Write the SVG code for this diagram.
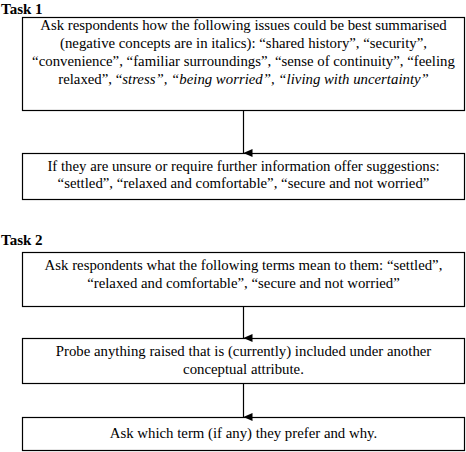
<svg xmlns="http://www.w3.org/2000/svg" width="466" height="452" viewBox="0 0 466 452">
<defs>
<style>
.box{fill:#fff;stroke:#000;stroke-width:1.2}
.t{font-family:'Liberation Serif','Times New Roman','DejaVu Serif',serif;font-size:14.8px;fill:#000;text-anchor:middle}
.h{font-family:'Liberation Serif','Times New Roman','DejaVu Serif',serif;font-size:15px;font-weight:bold;fill:#000}
.c{stroke:#000;stroke-width:1.2;fill:none}
</style>
<marker id="ah" markerWidth="8" markerHeight="9" refX="4" refY="9" orient="auto" markerUnits="userSpaceOnUse" viewBox="0 0 8 9">
<path d="M0,0 L8,0 L4,9 Z" fill="#000"/>
</marker>
</defs>
<rect width="466" height="452" fill="#fff"/>
<text class="h" x="1" y="14">Task 1</text>
<text class="h" x="1" y="245">Task 2</text>
<g id="n1">
<rect class="box" x="22.5" y="17.5" width="442" height="93"/>
<text class="t" x="243.5" y="29.5">Ask respondents how the following issues could be best summarised</text>
<text class="t" x="243.5" y="47.5">(negative concepts are in italics): “shared history”, “security”,</text>
<text class="t" x="243.5" y="65.5">“convenience”, “familiar surroundings”, “sense of continuity”, “feeling</text>
<text class="t" x="243.5" y="83.5">relaxed”, “<tspan font-style="italic">stress”, “being worried”, “living with uncertainty”</tspan></text>
</g>
<g id="n2">
<rect class="box" x="22.5" y="153.5" width="442" height="46"/>
<text class="t" x="243.5" y="170.5">If they are unsure or require further information offer suggestions:</text>
<text class="t" x="243.5" y="188">“settled”, “relaxed and comfortable”, “secure and not worried”</text>
</g>
<g id="n3">
<rect class="box" x="22.5" y="252.5" width="442" height="54"/>
<text class="t" x="243.5" y="270">Ask respondents what the following terms mean to them: “settled”,</text>
<text class="t" x="243.5" y="288">“relaxed and comfortable”, “secure and not worried”</text>
</g>
<g id="n4">
<rect class="box" x="22.5" y="338.5" width="442" height="45"/>
<text class="t" x="243.5" y="356">Probe anything raised that is (currently) included under another</text>
<text class="t" x="243.5" y="374">conceptual attribute.</text>
</g>
<g id="n5">
<rect class="box" x="22.5" y="417.5" width="442" height="33"/>
<text class="t" x="243.5" y="438">Ask which term (if any) they prefer and why.</text>
</g>
<g id="connectors">
<line class="c" x1="243.5" y1="111" x2="243.5" y2="153" marker-end="url(#ah)"/>
<line class="c" x1="243.5" y1="307" x2="243.5" y2="338" marker-end="url(#ah)"/>
<line class="c" x1="243.5" y1="384" x2="243.5" y2="417" marker-end="url(#ah)"/>
</g>
</svg>
